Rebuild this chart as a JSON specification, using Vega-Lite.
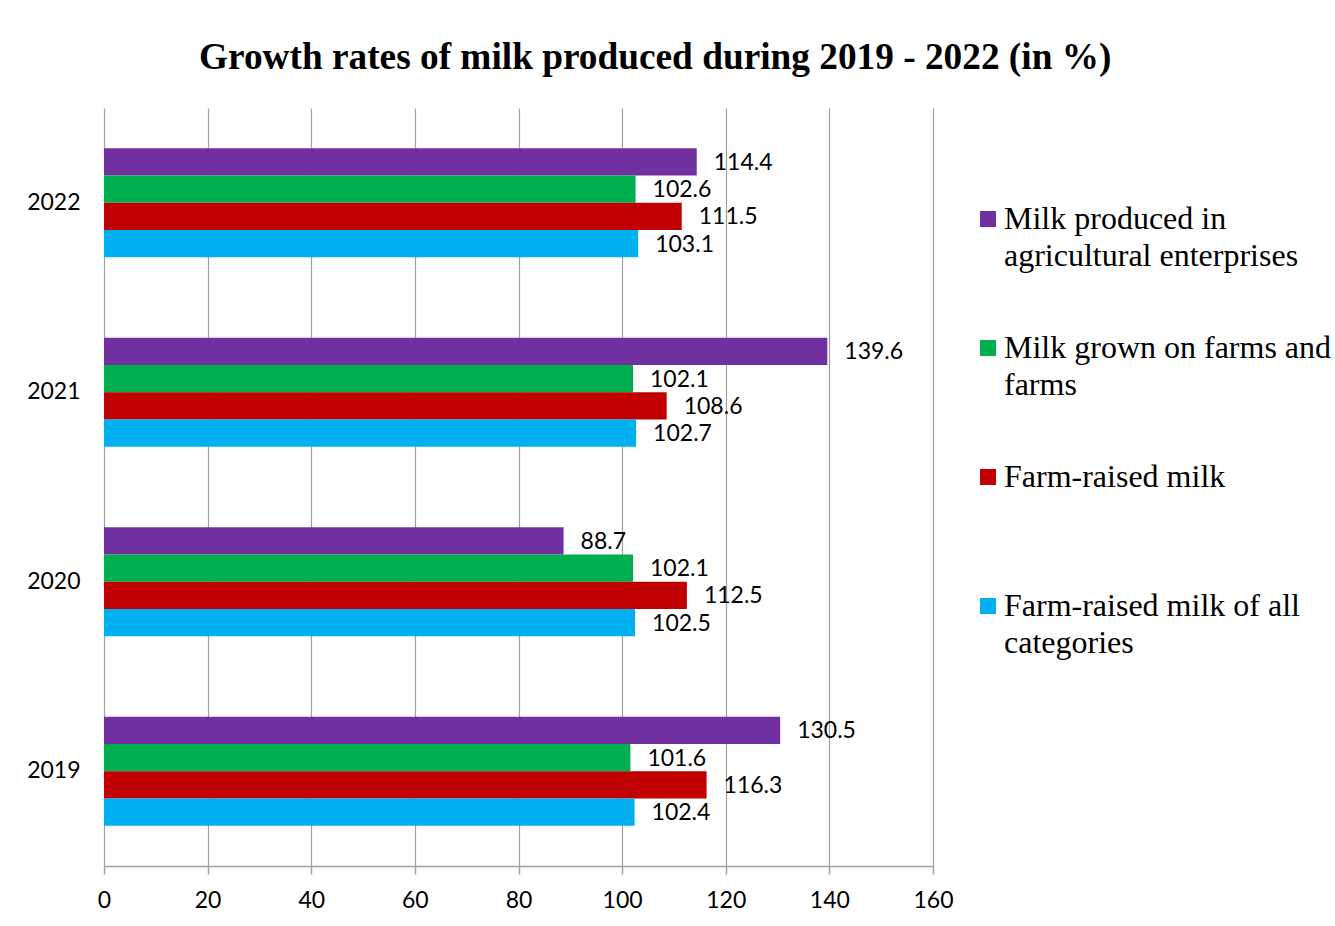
{
  "$schema": "https://vega.github.io/schema/vega-lite/v6.json",
  "autosize": {"type": "none"},
  "width": 829,
  "height": 758,
  "padding": {"left": 104, "top": 108, "right": 402, "bottom": 60},
  "background": "white",
  "title": {
    "text": "Growth rates of milk produced during 2019 - 2022 (in %)",
    "font": "Liberation Serif",
    "fontSize": 37.3,
    "fontWeight": "bold",
    "color": "#000000",
    "anchor": "start",
    "frame": "group",
    "dx": 95,
    "offset": 31
  },
  "data": {
    "values": [
      {"year": "2022", "series": "A", "value": 114.4},
      {"year": "2022", "series": "B", "value": 102.6},
      {"year": "2022", "series": "C", "value": 111.5},
      {"year": "2022", "series": "D", "value": 103.1},
      {"year": "2021", "series": "A", "value": 139.6},
      {"year": "2021", "series": "B", "value": 102.1},
      {"year": "2021", "series": "C", "value": 108.6},
      {"year": "2021", "series": "D", "value": 102.7},
      {"year": "2020", "series": "A", "value": 88.7},
      {"year": "2020", "series": "B", "value": 102.1},
      {"year": "2020", "series": "C", "value": 112.5},
      {"year": "2020", "series": "D", "value": 102.5},
      {"year": "2019", "series": "A", "value": 130.5},
      {"year": "2019", "series": "B", "value": 101.6},
      {"year": "2019", "series": "C", "value": 116.3},
      {"year": "2019", "series": "D", "value": 102.4}
    ]
  },
  "encoding": {
    "y": {
      "field": "year",
      "type": "nominal",
      "sort": "descending",
      "scale": {"paddingInner": 0.425, "paddingOuter": 0.2125},
      "axis": {
        "title": null,
        "domain": false,
        "ticks": false,
        "grid": false,
        "labelFont": "Lato",
        "labelFontSize": 23,
        "labelColor": "#000000",
        "labelPadding": 24
      }
    },
    "yOffset": {
      "field": "series",
      "type": "nominal",
      "sort": ["A", "B", "C", "D"],
      "scale": {"paddingInner": 0, "paddingOuter": 0}
    },
    "x": {
      "field": "value",
      "type": "quantitative",
      "scale": {"domain": [0, 160], "nice": false},
      "axis": {
        "title": null,
        "values": [0, 20, 40, 60, 80, 100, 120, 140, 160],
        "labelFlush": false,
        "domainColor": "#a0a0a0",
        "domainWidth": 1.5,
        "tickColor": "#a0a0a0",
        "tickSize": 8,
        "tickWidth": 1.5,
        "gridColor": "#a0a0a0",
        "gridWidth": 1.2,
        "labelFont": "Lato",
        "labelFontSize": 23,
        "labelColor": "#000000",
        "labelPadding": 15
      }
    }
  },
  "layer": [
    {
      "mark": {"type": "bar"},
      "encoding": {
        "color": {
          "field": "series",
          "type": "nominal",
          "scale": {
            "domain": ["A", "B", "C", "D"],
            "range": ["#7030A0", "#00B050", "#C00000", "#00B0F0"]
          },
          "legend": {
            "title": null,
            "orient": "none",
            "legendX": 868,
            "legendY": 95,
            "symbolType": "square",
            "symbolSize": 256,
            "symbolStrokeWidth": 0,
            "labelFont": "Liberation Serif",
            "labelFontSize": 32,
            "labelColor": "#000000",
            "labelOffset": 0,
            "labelLimit": 400,
            "labelBaseline": "middle",
            "rowPadding": 60,
            "labelExpr": "datum.value == 'A' ? ['Milk produced in', 'agricultural enterprises'] : datum.value == 'B' ? ['Milk grown on farms and', 'farms'] : datum.value == 'C' ? ['Farm-raised milk', ' '] : ['Farm-raised milk of all', 'categories']"
          }
        }
      }
    },
    {
      "mark": {
        "type": "text",
        "align": "left",
        "baseline": "middle",
        "dx": 17,
        "dy": 1,
        "font": "Lato",
        "fontSize": 23,
        "color": "#000000"
      },
      "encoding": {
        "text": {"field": "value", "type": "quantitative", "format": ".1f"}
      }
    }
  ],
  "config": {
    "view": {"stroke": null},
    "style": {"guide-label": {"lineHeight": 37}}
  }
}
